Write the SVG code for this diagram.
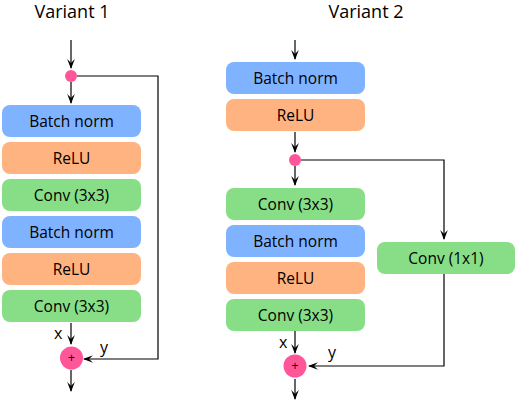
<svg xmlns="http://www.w3.org/2000/svg" width="518" height="400" viewBox="0 0 518 400">
<style>
text{font-family:"Open Sans","Noto Sans","DejaVu Sans",sans-serif;fill:#000;}
.t{font-size:18px;text-anchor:middle;}
.l{font-size:15.5px;text-anchor:middle;dominant-baseline:central;}
.s{font-size:16px;}
.bn{fill:#80b3ff;}
.re{fill:#ffb380;}
.cv{fill:#87de87;}
.dot{fill:#ff5599;}
.c{fill:none;stroke:#000;stroke-width:1.2;}
</style>
<defs>
<marker id="a" markerUnits="userSpaceOnUse" markerWidth="10" markerHeight="10" viewBox="0 0 10 10" refX="9" refY="5" orient="auto">
<path d="M0,1.2 L10,5 L0,8.8 L4,5 z" fill="#000"/>
</marker>
</defs>
<text class="t" x="72" y="17.5">Variant 1</text>
<text class="t" x="366" y="17.5">Variant 2</text>
<g id="connectors">
<path class="c" d="M71,40 V68" marker-end="url(#a)"/>
<path class="c" d="M71,82 V103" marker-end="url(#a)"/>
<path class="c" d="M77,76 H158 V359 H84" marker-end="url(#a)"/>
<path class="c" d="M71,323 V344" marker-end="url(#a)"/>
<path class="c" d="M71,370 V391" marker-end="url(#a)"/>
<path class="c" d="M295,40 V59" marker-end="url(#a)"/>
<path class="c" d="M295,132 V152" marker-end="url(#a)"/>
<path class="c" d="M295,166 V185" marker-end="url(#a)"/>
<path class="c" d="M301,160 H444 V239" marker-end="url(#a)"/>
<path class="c" d="M444,274 V366 H309" marker-end="url(#a)"/>
<path class="c" d="M295,331 V353" marker-end="url(#a)"/>
<path class="c" d="M295,379 V399" marker-end="url(#a)"/>
</g>
<g id="v1-split"><circle class="dot" cx="71" cy="76" r="6"/></g>
<g id="v1-bn1"><rect class="bn" x="2" y="105" width="139" height="32" rx="8"/><text class="l" x="71.5" y="121">Batch norm</text></g>
<g id="v1-relu1"><rect class="re" x="2" y="142" width="139" height="32" rx="8"/><text class="l" x="71.5" y="158">ReLU</text></g>
<g id="v1-conv1"><rect class="cv" x="2" y="179" width="139" height="32" rx="8"/><text class="l" x="71.5" y="195">Conv (3x3)</text></g>
<g id="v1-bn2"><rect class="bn" x="2" y="216" width="139" height="32" rx="8"/><text class="l" x="71.5" y="232">Batch norm</text></g>
<g id="v1-relu2"><rect class="re" x="2" y="253" width="139" height="32" rx="8"/><text class="l" x="71.5" y="269">ReLU</text></g>
<g id="v1-conv2"><rect class="cv" x="2" y="290" width="139" height="32" rx="8"/><text class="l" x="71.5" y="306">Conv (3x3)</text></g>
<g id="v1-add"><circle class="dot" cx="71.5" cy="358" r="11.5"/><text class="l" x="71.5" y="357" style="font-size:12px">+</text></g>
<text class="s" x="54" y="339">x</text>
<text class="s" x="100" y="353">y</text>
<g id="v2-bn1"><rect class="bn" x="226" y="62" width="139" height="32" rx="8"/><text class="l" x="295.5" y="78">Batch norm</text></g>
<g id="v2-relu1"><rect class="re" x="226" y="99" width="139" height="32" rx="8"/><text class="l" x="295.5" y="115">ReLU</text></g>
<g id="v2-split"><circle class="dot" cx="295" cy="160" r="6"/></g>
<g id="v2-conv1"><rect class="cv" x="226" y="188" width="139" height="32" rx="8"/><text class="l" x="295.5" y="204">Conv (3x3)</text></g>
<g id="v2-bn2"><rect class="bn" x="226" y="225" width="139" height="32" rx="8"/><text class="l" x="295.5" y="241">Batch norm</text></g>
<g id="v2-relu2"><rect class="re" x="226" y="262" width="139" height="32" rx="8"/><text class="l" x="295.5" y="278">ReLU</text></g>
<g id="v2-conv2"><rect class="cv" x="226" y="299" width="139" height="32" rx="8"/><text class="l" x="295.5" y="315">Conv (3x3)</text></g>
<g id="v2-conv1x1"><rect class="cv" x="377" y="242" width="138" height="32" rx="8"/><text class="l" x="446" y="258">Conv (1x1)</text></g>
<g id="v2-add"><circle class="dot" cx="295" cy="366" r="11.5"/><text class="l" x="295" y="365" style="font-size:12px">+</text></g>
<text class="s" x="279" y="348">x</text>
<text class="s" x="328" y="358">y</text>
</svg>
